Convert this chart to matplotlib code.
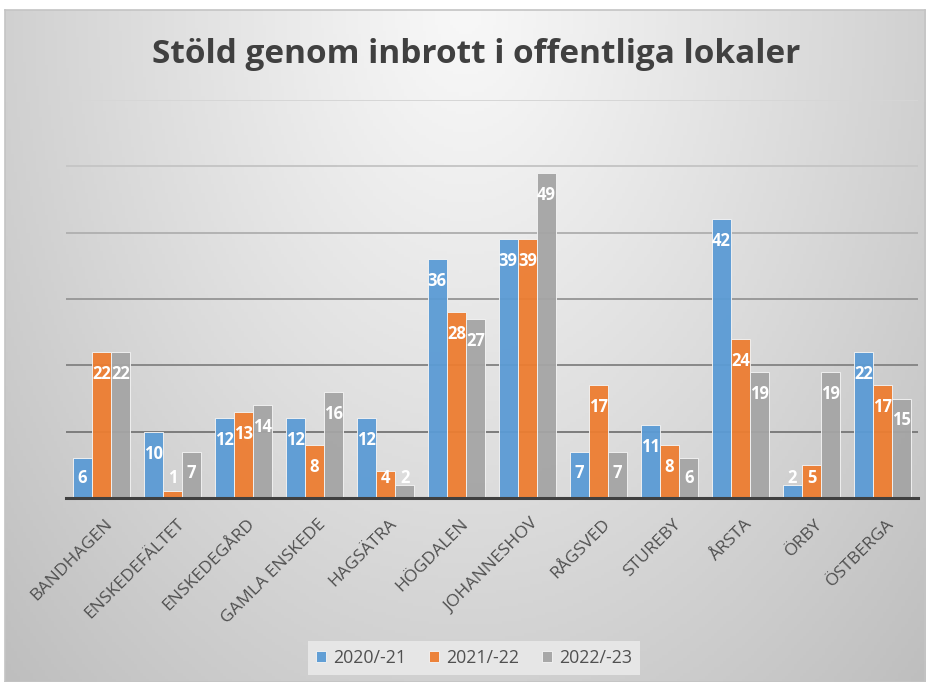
import numpy as np
import matplotlib
matplotlib.use("Agg")
from matplotlib import pyplot as plt
from matplotlib import transforms

plt.rcParams['font.family'] = ['Open Sans', 'DejaVu Sans']

# data
districts = ["BANDHAGEN", "ENSKEDEFÄLTET", "ENSKEDEGÅRD", "GAMLA ENSKEDE", "HAGSÄTRA",
             "HÖGDALEN", "JOHANNESHOV", "RÅGSVED", "STUREBY", "ÅRSTA", "ÖRBY", "ÖSTBERGA"]
v_2020 = [6, 10, 12, 12, 12, 36, 39, 7, 11, 42, 2, 22]
v_2021 = [22, 1, 13, 8, 4, 28, 39, 17, 8, 24, 5, 17]
v_2022 = [22, 7, 14, 16, 2, 27, 49, 7, 6, 19, 19, 15]
seasons = ["2020/-21", "2021/-22", "2022/-23"]
colors = ["#5B9BD5", "#ED7D31", "#A5A5A5"]

fig = plt.figure(figsize=(9.3, 6.82), dpi=100)
fig.patch.set_facecolor("white")

# chart area with a soft radial gradient like the Excel style
bg = fig.add_axes([5/930, 0, 920/930, 672/682], zorder=-5)
u, v = np.meshgrid(np.linspace(0, 1, 300), np.linspace(0, 1, 220))
d = np.sqrt(((u - 0.5) / 0.5) ** 2 + v ** 2) / np.sqrt(2)
shade = (248 - 58 * d ** 1.1) / 255
bg.imshow(np.dstack([shade] * 3), aspect="auto", extent=(0, 1, 0, 1), origin="upper")
bg.set_xticks([])
bg.set_yticks([])
for s in bg.spines.values():
    s.set_color("#c4c4c4")
    s.set_linewidth(1.2)

ax = fig.add_axes([66/930, 1 - 498/682, 852/930, 398/682])
ax.patch.set_alpha(0)

x = np.arange(len(districts))
w = 0.26
off = 0.27
grid_cols = ["#7c7c7c", "#888888", "#9a9a9a", "#b2b2b2", "#c6c6c6", "#d6d6d6"]
for i, g in enumerate(range(10, 70, 10)):
    ax.axhline(g, color=grid_cols[i], lw=1.4, zorder=0)

for k, (vals, c, lab) in enumerate(zip([v_2020, v_2021, v_2022], colors, seasons)):
    pos = x + (k - 1) * off
    ax.bar(pos, vals, width=w, color=c, edgecolor="#f2f2f2", linewidth=0.7,
           alpha=0.95, label=lab, zorder=2)
    for px, val in zip(pos, vals):
        ax.text(px, max(val - 3.3, 3.0), str(val), ha="center", va="center",
                color="white", fontweight="bold", fontsize=12, zorder=3)

ax.set_xlim(-0.5, 11.5)
ax.set_ylim(0, 60)
ax.set_yticks([])
for s in ["top", "right", "left"]:
    ax.spines[s].set_visible(False)
ax.spines["bottom"].set_color("#404040")
ax.spines["bottom"].set_linewidth(2.2)
ax.spines["bottom"].set_zorder(4)

ax.set_xticks(x, districts, rotation=45, ha="right", va="center",
              rotation_mode="anchor", fontsize=12.6, color="#505050")
ax.tick_params(axis="x", length=0, pad=17)
shift = transforms.ScaledTranslation(0.09, 0, fig.dpi_scale_trans)
for t in ax.get_xticklabels():
    t.set_transform(t.get_transform() + shift)

fig.text(476/930, 1 - 63/682, "Stöld genom inbrott i offentliga lokaler",
         ha="center", va="baseline", fontsize=24, fontweight="bold", color="#404040")

leg = fig.legend(loc="center", bbox_to_anchor=(474/930, 1 - 658/682), ncol=3,
                 fontsize=12.8, frameon=True, fancybox=False, framealpha=1,
                 facecolor="#e6e6e6", edgecolor="none", handlelength=0.55,
                 handleheight=0.55, handletextpad=0.4, columnspacing=1.3,
                 borderpad=0.45)
for t in leg.get_texts():
    t.set_color("#505050")

plt.savefig("out.png", dpi=100)
